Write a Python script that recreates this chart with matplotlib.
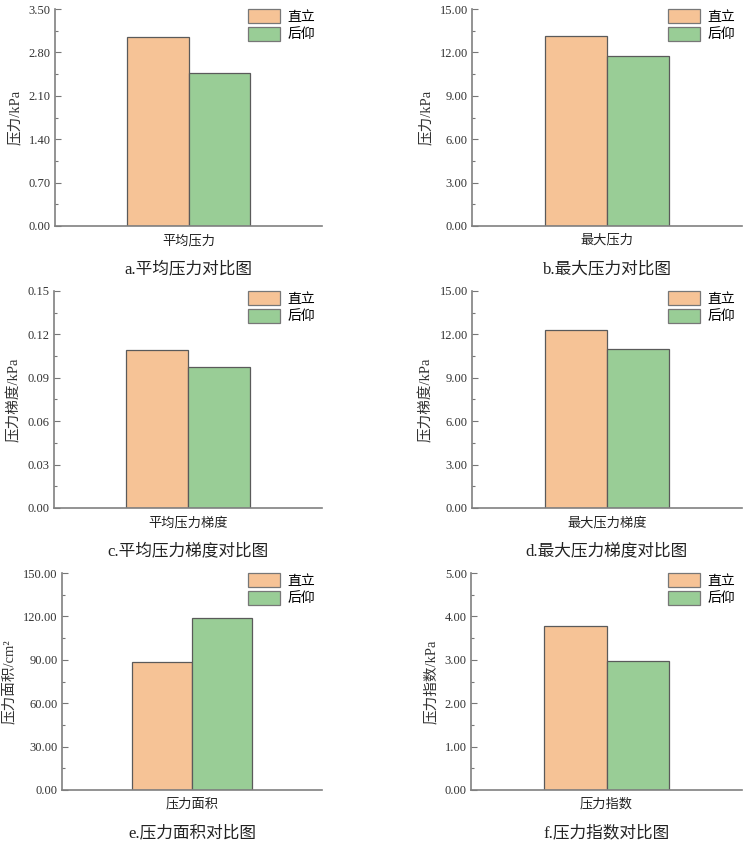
import numpy as np
import matplotlib
matplotlib.use('Agg')
from matplotlib import pyplot as plt
from matplotlib.ticker import AutoMinorLocator

plt.rcParams['font.family'] = ['Liberation Serif', 'Noto Sans CJK SC', 'DejaVu Sans']
plt.rcParams['axes.unicode_minus'] = False

series = ['直立', '后仰']
colors = ['#f6c396', '#99cd96']

categories = ['平均压力', '最大压力', '平均压力梯度', '最大压力梯度', '压力面积', '压力指数']
captions = ['a.平均压力对比图', 'b.最大压力对比图', 'c.平均压力梯度对比图',
            'd.最大压力梯度对比图', 'e.压力面积对比图', 'f.压力指数对比图']
ylabels = ['压力/kPa', '压力/kPa', '压力梯度/kPa', '压力梯度/kPa', '压力面积/cm²', '压力指数/kPa']

upright = [3.05, 13.13, 0.109, 12.3, 88.5, 3.78]
reclined = [2.47, 11.75, 0.0975, 11.0, 118.9, 2.97]

yticks = [
	[0.00, 0.70, 1.40, 2.10, 2.80, 3.50],
	[0.00, 3.00, 6.00, 9.00, 12.00, 15.00],
	[0.00, 0.03, 0.06, 0.09, 0.12, 0.15],
	[0.00, 3.00, 6.00, 9.00, 12.00, 15.00],
	[0.00, 30.00, 60.00, 90.00, 120.00, 150.00],
	[0.00, 1.00, 2.00, 3.00, 4.00, 5.00],
]

# axes boxes in pixels: left, right, top, bottom
boxes = [
	(55, 322, 9, 226), (472, 742, 9, 226),
	(54, 322, 291, 508), (472, 742, 291, 508),
	(62, 322, 573, 790), (471, 742, 573, 790),
]

W, H = 750, 843
fig = plt.figure(figsize=(W / 100, H / 100), dpi=100)

for i in range(6):
	l, r, t, b = boxes[i]
	ax = fig.add_axes([l / W, 1 - b / H, (r - l) / W, (b - t) / H])
	bw = 0.46
	vals = [upright[i], reclined[i]]
	for j in range(2):
		ax.bar(-bw / 2 + j * bw, vals[j], width=bw, color=colors[j], edgecolor='#5a5a5a',
			linewidth=0.9, label=series[j], zorder=2)
	ax.set_xlim(-1, 1)
	ax.set_ylim(yticks[i][0], yticks[i][-1])
	ax.set_yticks(yticks[i])
	ax.set_yticklabels(['%.2f' % v for v in yticks[i]], fontsize=9, color='#333333')
	ax.yaxis.set_minor_locator(AutoMinorLocator(2))
	ax.tick_params(axis='y', which='major', direction='in', length=4, width=0.8, color='#777777', pad=3)
	ax.tick_params(axis='y', which='minor', direction='in', length=2, width=0.8, color='#777777')
	ax.set_xticks([0])
	ax.set_xticklabels([categories[i]], fontsize=9.5, color='#222222')
	ax.tick_params(axis='x', length=0, pad=6)
	for s in ['top', 'right']:
		ax.spines[s].set_visible(False)
	for s in ['left', 'bottom']:
		ax.spines[s].set_color('#808080')
		ax.spines[s].set_linewidth(1.2)
	ax.set_ylabel(ylabels[i], fontsize=10.5, color='#333333', labelpad=5)
	ax.annotate(captions[i], xy=(0.5, 0), xycoords='axes fraction', xytext=(0, -31),
		textcoords='offset points', ha='center', va='center', fontsize=12, color='#222222')
	leg = ax.legend(loc='upper right', bbox_to_anchor=(1.0, 1.03), frameon=False, fontsize=10,
		handlelength=2.3, handleheight=1.15, labelspacing=0.2, borderaxespad=0.1, handletextpad=0.5)
	for p in leg.get_patches():
		p.set_edgecolor('#777777')

fig.savefig('out.png', dpi=100)
